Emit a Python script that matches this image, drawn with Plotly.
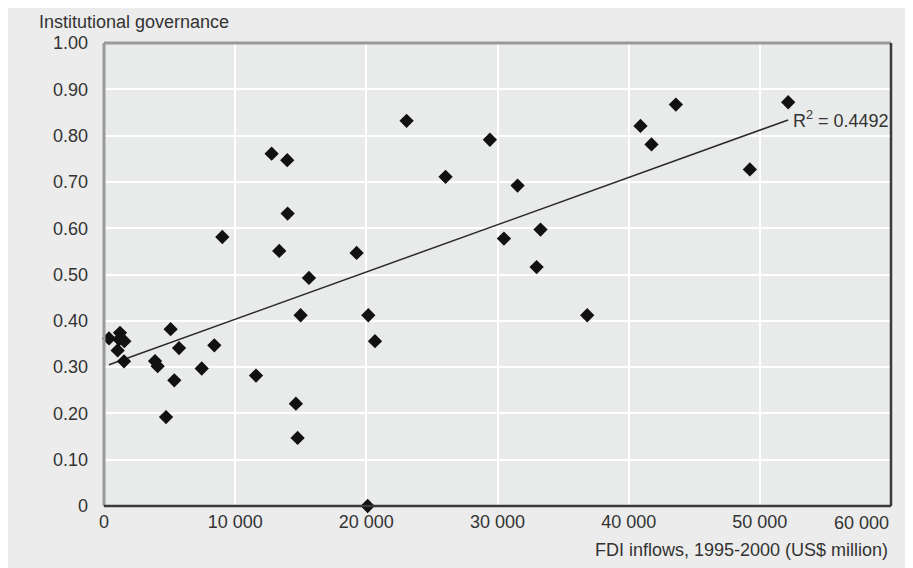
import numpy as np
import plotly.graph_objects as go

# FDI inflows 1995-2000 (US$ million) and institutional governance index
fdi = [381, 1220, 1550, 1040, 1525, 1150, 5080, 5720, 8410, 3890, 4090, 5360, 7450,
       11590, 4730, 12780, 13970, 14000, 9020, 13360, 19260, 15625, 14990, 20150,
       20660, 14630, 14760, 20100, 23070, 29420, 26040, 31530, 33280, 30490, 32980,
       43600, 40900, 41740, 49240, 52160, 36840]
governance = [0.362, 0.374, 0.356, 0.336, 0.3125, 0.360, 0.382, 0.341, 0.347, 0.313,
              0.302, 0.2715, 0.297, 0.2816, 0.192, 0.761, 0.747, 0.6315, 0.581, 0.551,
              0.5465, 0.4925, 0.412, 0.412, 0.356, 0.221, 0.147, 0.0, 0.832, 0.791,
              0.711, 0.692, 0.597, 0.5775, 0.516, 0.867, 0.821, 0.781, 0.727, 0.872,
              0.412]
r_squared_label = "R<sup>2</sup> = 0.4492"

x_tick_vals = [0, 10000, 20000, 30000, 40000, 50000, 60000]
x_tick_text = ["0", "10 000", "20 000", "30 000", "40 000", "50 000", "60 000"]
y_tick_vals = [0, 0.1, 0.2, 0.3, 0.4, 0.5, 0.6, 0.7, 0.8, 0.9, 1.0]
y_tick_text = ["0", "0.10", "0.20", "0.30", "0.40", "0.50", "0.60", "0.70", "0.80", "0.90", "1.00"]

FONT = "Liberation Sans, Arial, sans-serif"
TXT = "#333333"

# linear trend
slope, intercept = np.polyfit(fdi, governance, 1)
tx = np.array([min(fdi), max(fdi)])
ty = slope * tx + intercept

fig = go.Figure()
fig.add_trace(go.Scatter(x=tx, y=ty, mode="lines",
                         line=dict(color="#2a2a2a", width=1.5), hoverinfo="skip"))
fig.add_trace(go.Scatter(x=fdi, y=governance, mode="markers",
                         marker=dict(symbol="diamond", size=11, color="#111111"),
                         cliponaxis=False))

fig.add_annotation(x=tx[1], y=ty[1], xref="x", yref="y", text=r_squared_label,
                   showarrow=False, xanchor="left", yanchor="middle", xshift=3,
                   font=dict(family=FONT, size=18, color=TXT))
fig.add_annotation(x=-0.085, y=1.045, xref="paper", yref="paper",
                   text="Institutional governance", showarrow=False,
                   xanchor="left", yanchor="middle",
                   font=dict(family=FONT, size=18, color=TXT))
fig.add_annotation(x=0.9987, y=-0.095, xref="paper", yref="paper",
                   text="FDI inflows, 1995-2000 (US$ million)", showarrow=False,
                   xanchor="right", yanchor="middle",
                   font=dict(family=FONT, size=18, color=TXT))
# last x tick label, right-aligned to the plot edge
fig.add_annotation(x=x_tick_vals[-1], y=-0.037, xref="x", yref="paper",
                   text=x_tick_text[-1], showarrow=False,
                   xanchor="right", yanchor="middle",
                   font=dict(family=FONT, size=18, color=TXT))

# frame lines
fig.add_shape(type="line", xref="paper", yref="paper", x0=0, x1=0, y0=0, y1=1,
              line=dict(color="#9a9a9a", width=3))
fig.add_shape(type="line", xref="paper", yref="paper", x0=0, x1=1, y0=1, y1=1,
              line=dict(color="#9a9a9a", width=3))
fig.add_shape(type="line", xref="paper", yref="paper", x0=0, x1=1, y0=0, y1=0,
              line=dict(color="#3a3a3a", width=2.5))
fig.add_shape(type="line", xref="paper", yref="paper", x0=1, x1=1, y0=0, y1=1,
              line=dict(color="#3a3a3a", width=2.5))

fig.update_layout(
    width=913, height=568,
    margin=dict(l=96, r=30, t=35, b=70),
    paper_bgcolor="#ececec", plot_bgcolor="#e9eaea",
    showlegend=False,
    font=dict(family=FONT, size=18, color=TXT),
    xaxis=dict(range=[0, 60000], tickvals=x_tick_vals[:-1], ticktext=x_tick_text[:-1],
               showgrid=True, gridcolor="white", gridwidth=2, zeroline=False,
               showline=False, ticks="", ticklabelstandoff=3, automargin=False,
               tickfont=dict(family=FONT, size=18, color=TXT), fixedrange=True),
    yaxis=dict(range=[0, 1.0], tickvals=y_tick_vals, ticktext=y_tick_text,
               showgrid=True, gridcolor="white", gridwidth=2, zeroline=False,
               showline=False, ticks="", ticklabelstandoff=15, automargin=False,
               tickfont=dict(family=FONT, size=18, color=TXT), fixedrange=True),
)

fig.write_html("out.html")
